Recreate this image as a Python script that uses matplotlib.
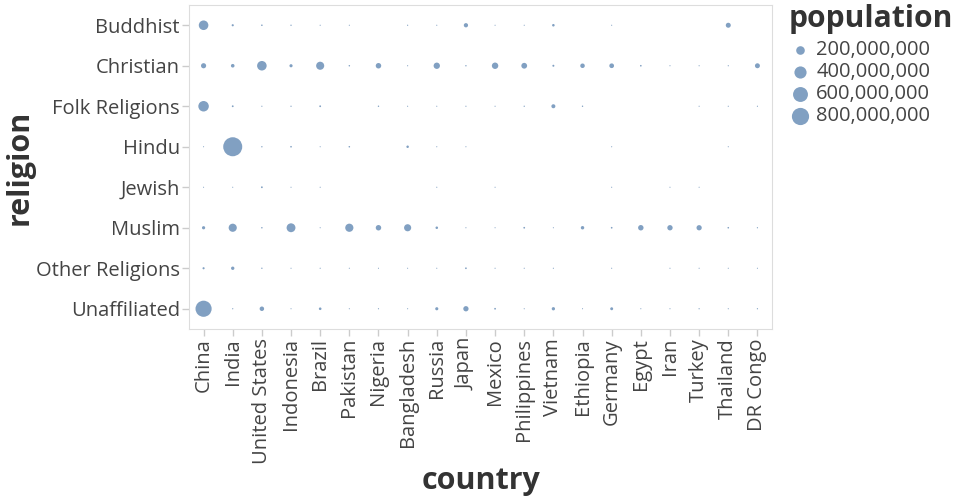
import numpy as np
import matplotlib
matplotlib.use("Agg")
import matplotlib.pyplot as plt

plt.rcParams['font.family'] = ['Open Sans', 'DejaVu Sans']

# Religion categories (top to bottom)
religions = ['Buddhist', 'Christian', 'Folk Religions', 'Hindu', 'Jewish',
             'Muslim', 'Other Religions', 'Unaffiliated']

countries = ['China', 'India', 'United States', 'Indonesia', 'Brazil', 'Pakistan',
             'Nigeria', 'Bangladesh', 'Russia', 'Japan', 'Mexico', 'Philippines',
             'Vietnam', 'Ethiopia', 'Germany', 'Egypt', 'Iran', 'Turkey',
             'Thailand', 'DR Congo']

# population in millions, per country, in religion order
china = [244.13, 68.41, 294.32, 0.02, 0.005, 24.69, 9.06, 700.68]
india = [9.25, 31.85, 5.84, 973.75, 0.005, 176.19, 27.56, 0.87]
united_states = [3.57, 243.06, 0.63, 1.79, 5.69, 2.77, 1.90, 50.98]
indonesia = [1.70, 23.66, 1.20, 4.05, 0.005, 209.12, 0.05, 0.05]
brazil = [0.24, 173.30, 5.54, 0.005, 0.10, 0.04, 0.40, 15.41]
pakistan = [0.10, 2.71, 0.0, 3.33, 0.0, 178.10, 0.10, 0.10]
nigeria = [0.0, 78.05, 2.24, 0.0, 0.0, 77.30, 0.10, 0.66]
bangladesh = [0.90, 0.30, 0.20, 13.52, 0.0, 133.54, 0.05, 0.10]
russia = [0.20, 104.75, 0.01, 0.03, 0.23, 14.29, 0.02, 23.18]
japan = [45.82, 2.03, 0.55, 0.03, 0.0, 0.19, 5.00, 72.12]
mexico = [0.02, 107.91, 0.20, 0.0, 0.07, 0.01, 0.20, 5.20]
philippines = [0.10, 86.79, 1.42, 0.0, 0.0, 5.15, 0.20, 0.10]
vietnam = [14.38, 7.86, 40.17, 0.0, 0.0, 0.01, 0.30, 26.04]
ethiopia = [0.0, 52.07, 2.20, 0.0, 0.0, 28.68, 0.0, 0.05]
germany = [0.23, 56.54, 0.0, 0.08, 0.23, 4.76, 0.20, 20.35]
egypt = [0.0, 4.30, 0.0, 0.0, 0.0, 77.00, 0.0, 0.05]
iran = [0.0, 0.15, 0.0, 0.0, 0.01, 73.57, 0.10, 0.10]
turkey = [0.0, 0.29, 0.10, 0.0, 0.02, 71.33, 0.10, 0.88]
thailand = [64.42, 0.60, 0.30, 0.07, 0.0, 3.76, 0.03, 0.20]
dr_congo = [0.0, 63.21, 0.50, 0.0, 0.0, 1.00, 0.05, 1.00]

table = [china, india, united_states, indonesia, brazil, pakistan, nigeria,
         bangladesh, russia, japan, mexico, philippines, vietnam, ethiopia,
         germany, egypt, iran, turkey, thailand, dr_congo]

legend_values = [200e6, 400e6, 600e6, 800e6]

pop = np.array(table).T * 1e6  # rows = religions, cols = countries

# size scale: area proportional to population, zero based, tiny floor so
# very small groups still leave a faint dot
s_per_person = 187 / 974e6
s_floor = 0.6
color = '#4c78a8'

W, H = 960, 500
fig = plt.figure(figsize=(W / 100, H / 100), dpi=100)
ax = fig.add_axes([189 / W, 171 / H, 583 / W, 324 / H])

xx, yy = np.meshgrid(np.arange(len(countries)), np.arange(len(religions)))
mask = pop > 0
ax.scatter(xx[mask], yy[mask], s=s_floor + pop[mask] * s_per_person, color=color,
           alpha=0.7, linewidths=0)

ax.set_xlim(-0.5, len(countries) - 0.5)
ax.set_ylim(len(religions) - 0.5, -0.5)
ax.set_xticks(range(len(countries)))
ax.set_xticklabels(countries, rotation=90)
ax.set_yticks(range(len(religions)))
ax.set_yticklabels(religions)
ax.tick_params(length=5, width=1, color='#cccccc', labelsize=14.5,
               labelcolor='#444444', pad=1.5)
for sp in ax.spines.values():
    sp.set_color('#dddddd')

# axis titles
fig.text(481 / W, 1 - 481 / H, 'country', fontsize=22, fontweight='bold',
         color='#333333', ha='center', va='center')
fig.text(20 / W, 1 - 167 / H, 'religion', fontsize=22, fontweight='bold',
         color='#333333', ha='center', va='center', rotation=90)

# size legend
fig.text(789 / W, 1 - 27 / H, 'population', fontsize=21.6, fontweight='bold',
         color='#333333', ha='left', va='baseline')
handles = [ax.scatter([], [], s=v * s_per_person, color=color, alpha=0.7, linewidths=0)
           for v in legend_values]
labels = [f'{int(v):,}' for v in legend_values]
leg = fig.legend(handles, labels, loc='upper left',
                 bbox_to_anchor=(790 / W, 1 - 40 / H), frameon=False, fontsize=14.5,
                 handletextpad=0.3, labelspacing=0.1,
                 borderaxespad=0, borderpad=0, handlelength=1.0)
for t in leg.get_texts():
    t.set_color('#444444')

fig.savefig('out.png', dpi=100)
